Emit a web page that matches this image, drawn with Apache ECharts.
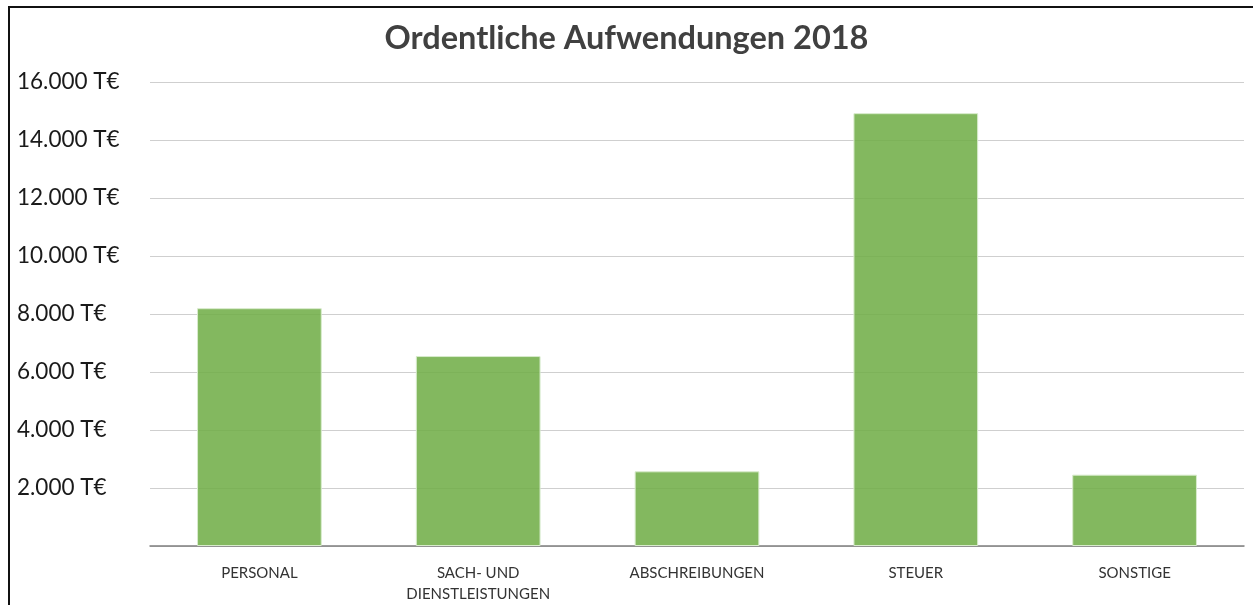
<!DOCTYPE html>
<html>
<head>
<meta charset="utf-8">
<script src="https://cdn.jsdelivr.net/npm/echarts@6/dist/echarts.min.js"></script>
<style>
html,body{margin:0;padding:0;background:#fff;}
#wrap{position:absolute;left:0;top:0;width:1253px;height:605px;background:#fff;}
#border{position:absolute;left:8px;top:6px;width:1300px;height:700px;border-left:2px solid #111;border-top:2px solid #111;box-sizing:border-box;pointer-events:none;}
#chart{position:absolute;left:0;top:0;width:1253px;height:605px;}
</style>
</head>
<body>
<div id="wrap"><div id="chart"></div><div id="border"></div></div>
<script>
const titleText = 'Ordentliche Aufwendungen 2018';
const categories = ['PERSONAL', 'SACH- UND\nDIENSTLEISTUNGEN', 'ABSCHREIBUNGEN', 'STEUER', 'SONSTIGE'];
const values = [8200, 6550, 2575, 14925, 2460];
const yMin = 0, yMax = 16000, yStep = 2000;

function fmt(v){
  if (v === 0) return '';
  const s = String(v).replace(/\B(?=(\d{3})+(?!\d))/g, '.');
  return s + ' T€';
}

const chart = echarts.init(document.getElementById('chart'), null, {renderer:'canvas'});
chart.setOption({
  backgroundColor: '#ffffff',
  animation: false,
  title: {
    text: titleText,
    left: 'center',
    top: 17,
    textStyle: {fontFamily: 'Lato', fontWeight: 'bold', fontSize: 32.5, color: '#404040'}
  },
  grid: {left: 150, right: 9, top: 82, bottom: 57, containLabel: false},
  xAxis: {
    type: 'category',
    data: categories,
    axisLine: {lineStyle: {color: '#7f7f7f', width: 1.5}},
    axisTick: {show: false},
    axisLabel: {fontFamily: 'Lato', fontSize: 15, color: '#333', margin: 17, lineHeight: 21, interval: 0}
  },
  yAxis: {
    type: 'value',
    min: yMin, max: yMax, interval: yStep,
    axisLine: {show: false},
    axisTick: {show: false},
    splitLine: {lineStyle: {color: '#cfcfcf', width: 1.2}},
    axisLabel: {formatter: fmt, align: 'left', margin: 133, fontFamily: 'Lato', fontSize: 22.5, color: '#1a1a1a'}
  },
  series: [{
    type: 'bar',
    data: values,
    barCategoryGap: '43%',
    itemStyle: {color: 'rgba(112,173,71,0.87)', borderColor: '#d8ebcc', borderWidth: 1}
  }]
});
</script>
</body>
</html>
